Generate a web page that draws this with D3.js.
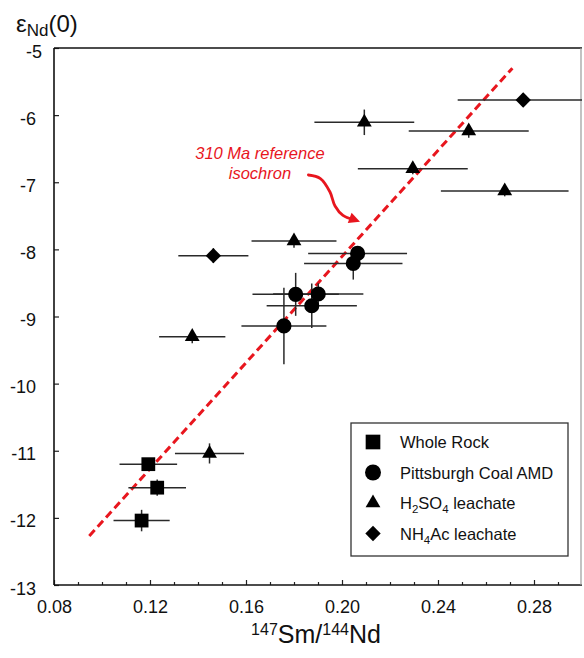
<!DOCTYPE html>
<html>
<head>
<meta charset="utf-8">
<script src="https://cdn.jsdelivr.net/npm/d3@7"></script>
<style>
  html, body { margin: 0; padding: 0; background: #fff; }
  svg { display: block; font-family: "Liberation Sans", Arial, Helvetica, sans-serif; }
</style>
</head>
<body>
<svg id="chart" width="584" height="658"></svg>
<script>
// Axis ticks
const xTicks = [0.08, 0.12, 0.16, 0.20, 0.24, 0.28];
const xMinorTicks = [0.09, 0.10, 0.11, 0.13, 0.14, 0.15, 0.17, 0.18, 0.19, 0.21, 0.22, 0.23, 0.25, 0.26, 0.27, 0.29];
const yTicks = [-5, -6, -7, -8, -9, -10, -11, -12, -13];

// Whole rock
const wholeRockX = [0.1193, 0.1230, 0.1165];
const wholeRockY = [-11.20, -11.55, -12.04];
const wholeRockXErr = [0.0120, 0.0120, 0.0117];
const wholeRockYErr = [0.07, 0.12, 0.16];

// Pittsburgh Coal AMD
const amdX = [0.2065, 0.2047, 0.1807, 0.1901, 0.1874, 0.1758];
const amdY = [-8.06, -8.21, -8.67, -8.665, -8.84, -9.14];
const amdXErr = [0.0206, 0.0205, 0.0180, 0.0188, 0.0188, 0.0177];
const amdYErr = [0.08, 0.24, 0.32, 0.16, 0.33, 0.57];

// H2SO4 leachate
const h2so4X = [0.1448, 0.1376, 0.1800, 0.2093, 0.2528, 0.2295, 0.2678];
const h2so4Y = [-11.04, -9.30, -7.875, -6.107, -6.237, -6.80, -7.13];
const h2so4XErr = [0.0144, 0.0138, 0.0177, 0.0208, 0.0250, 0.0229, 0.0266];
const h2so4YErr = [0.15, 0.10, 0.10, 0.19, 0.10, 0.08, 0.08];

// NH4Ac leachate
const nh4acX = [0.1464, 0.2755];
const nh4acY = [-8.094, -5.775];
const nh4acXErr = [0.0146, 0.0273];
const nh4acYErr = [0.11, 0.10];

// 310 Ma reference isochron (end points)
const isochronX = [0.0947, 0.2710];
const isochronY = [-12.27, -5.30];

// Callout arrow path, in data units
const arrowX = [0.1860, 0.1910, 0.1950, 0.1971, 0.2004, 0.2046, 0.2075];
const arrowY = [-6.892, -6.945, -7.145, -7.354, -7.495, -7.555, -7.588];
const calloutLines = ["310 Ma reference", "isochron"];
const calloutPos = [0.1658, -6.66];

const legendLabels = ["Whole Rock", "Pittsburgh Coal AMD", "H2SO4 leachate", "NH4Ac leachate"];

const RED = "#e8161e";
const svg = d3.select("#chart");

const x = d3.scaleLinear().domain([0.08, 0.30]).range([54, 582]);
const y = d3.scaleLinear().domain([-13, -5]).range([585, 48]);

// Clip region for marks
svg.append("clipPath").attr("id", "plotClip")
  .append("rect").attr("x", x(0.08)).attr("y", y(-5))
  .attr("width", x(0.30) - x(0.08)).attr("height", y(-13) - y(-5));

// X axis: minor and major inward ticks
const gxMinor = svg.append("g").attr("transform", `translate(0,${y(-13)})`)
  .call(d3.axisBottom(x).tickValues(xMinorTicks).tickSize(-3).tickFormat(""));
const gx = svg.append("g").attr("transform", `translate(0,${y(-13)})`)
  .call(d3.axisBottom(x).tickValues(xTicks).tickSize(-5).tickPadding(15).tickFormat(d3.format(".2f")));
[gxMinor, gx].forEach(g => {
  g.select(".domain").remove();
  g.selectAll("line").attr("stroke", "#222").attr("stroke-width", 1.2);
});
gx.selectAll("text").attr("font-size", 18).attr("fill", "#111")
  .attr("font-family", "'Liberation Sans', Arial, sans-serif");

// Y axis
const gy = svg.append("g").attr("transform", `translate(${x(0.08)},0)`)
  .call(d3.axisLeft(y).tickValues(yTicks).tickSize(-5).tickPadding(18).tickFormat(d3.format("d")));
gy.select(".domain").remove();
gy.selectAll("line").attr("stroke", "#222").attr("stroke-width", 1.2);
gy.selectAll("text").attr("font-size", 18).attr("fill", "#111")
  .attr("font-family", "'Liberation Sans', Arial, sans-serif")
  .attr("dy", "0.5em")
  .attr("dx", d => d === -5 ? 6 : 0)
  .text(d => String(d).replace("\u2212", "-"));

// Frame
const frame = svg.append("g");
frame.append("line").attr("x1", x(0.08)).attr("x2", x(0.30)).attr("y1", y(-5)).attr("y2", y(-5))
  .attr("stroke", "#111").attr("stroke-width", 1.4);
frame.append("line").attr("x1", x(0.08)).attr("x2", x(0.08)).attr("y1", y(-5)).attr("y2", y(-13))
  .attr("stroke", "#111").attr("stroke-width", 1.6);
frame.append("line").attr("x1", x(0.08)).attr("x2", x(0.30)).attr("y1", y(-13)).attr("y2", y(-13))
  .attr("stroke", "#111").attr("stroke-width", 1.6);
frame.append("line").attr("x1", x(0.30) - 1).attr("x2", x(0.30) - 1).attr("y1", y(-5)).attr("y2", y(-13))
  .attr("stroke", "#9a9a9a").attr("stroke-width", 1.2);

const plot = svg.append("g").attr("clip-path", "url(#plotClip)");

// Isochron
plot.append("path")
  .datum(isochronX.map((v, i) => [v, isochronY[i]]))
  .attr("d", d3.line().x(d => x(d[0])).y(d => y(d[1])))
  .attr("fill", "none").attr("stroke", RED).attr("stroke-width", 3)
  .attr("stroke-dasharray", "8,4.5");

// Series
const series = [
  { xs: wholeRockX, ys: wholeRockY, xe: wholeRockXErr, ye: wholeRockYErr, type: d3.symbolSquare, size: 190, rot: 0 },
  { xs: amdX, ys: amdY, xe: amdXErr, ye: amdYErr, type: d3.symbolCircle, size: 180, rot: 0 },
  { xs: h2so4X, ys: h2so4Y, xe: h2so4XErr, ye: h2so4YErr, type: d3.symbolTriangle, size: 95, rot: 0 },
  { xs: nh4acX, ys: nh4acY, xe: nh4acXErr, ye: nh4acYErr, type: d3.symbolSquare, size: 118, rot: 45 }
];

const errG = plot.append("g").attr("stroke", "#2a2a2a").attr("stroke-width", 1.5);
series.forEach(s => {
  s.xs.forEach((xv, i) => {
    const yv = s.ys[i];
    errG.append("line").attr("x1", x(xv - s.xe[i])).attr("x2", x(xv + s.xe[i]))
      .attr("y1", y(yv)).attr("y2", y(yv));
    errG.append("line").attr("x1", x(xv)).attr("x2", x(xv))
      .attr("y1", y(yv - s.ye[i])).attr("y2", y(yv + s.ye[i]));
  });
});

const markG = plot.append("g");
series.forEach(s => {
  markG.selectAll(null).data(s.xs.map((v, i) => [v, s.ys[i]])).enter()
    .append("path")
    .attr("d", d3.symbol().type(s.type).size(s.size))
    .attr("transform", d => `translate(${x(d[0])},${y(d[1])}) rotate(${s.rot})`)
    .attr("fill", "#000");
});

// Callout text and arrow
const callout = svg.append("text")
  .attr("x", x(calloutPos[0])).attr("y", y(calloutPos[1]))
  .attr("text-anchor", "middle").attr("fill", RED)
  .attr("font-size", 16.5).attr("font-style", "italic");
calloutLines.forEach((t, i) => {
  callout.append("tspan").attr("x", x(calloutPos[0])).attr("dy", i === 0 ? 0 : 20).text(t);
});

const arrowPts = arrowX.map((v, i) => [x(v), y(arrowY[i])]);
const shaftPts = arrowPts.slice(0, -1);
svg.append("path").datum(shaftPts)
  .attr("d", d3.line().curve(d3.curveCatmullRom))
  .attr("fill", "none").attr("stroke", RED).attr("stroke-width", 2.8).attr("stroke-linecap", "round");
{
  const tip = arrowPts[arrowPts.length - 1];
  const prev = arrowPts[arrowPts.length - 3];
  const ang = Math.atan2(tip[1] - prev[1], tip[0] - prev[0]);
  const L = 11, W = 5.5;
  const bx = tip[0] - L * Math.cos(ang), by = tip[1] - L * Math.sin(ang);
  const px = -Math.sin(ang) * W, py = Math.cos(ang) * W;
  svg.append("path")
    .attr("d", `M${tip[0]},${tip[1]}L${bx + px},${by + py}L${bx - px},${by - py}Z`)
    .attr("fill", RED);
}

// Axis titles
const yTitle = svg.append("text").attr("x", 16).attr("y", 32).attr("fill", "#111").attr("font-size", 24);
yTitle.append("tspan").text("\u03b5");
yTitle.append("tspan").attr("font-size", 17).attr("dy", 4).text("Nd");
yTitle.append("tspan").attr("dy", -4).text("(0)");

const xTitle = svg.append("text").attr("x", (x(0.08) + x(0.30)) / 2 - 2).attr("y", 643)
  .attr("text-anchor", "middle").attr("fill", "#111").attr("font-size", 25);
xTitle.append("tspan").attr("font-size", 16).attr("dy", -8).text("147");
xTitle.append("tspan").attr("dy", 8).text("Sm/");
xTitle.append("tspan").attr("font-size", 16).attr("dy", -8).text("144");
xTitle.append("tspan").attr("dy", 8).text("Nd");

// Legend
const legend = svg.append("g");
legend.append("rect").attr("x", 351).attr("y", 423).attr("width", 217).attr("height", 133)
  .attr("fill", "#fff").attr("stroke", "#333").attr("stroke-width", 1.3);
const legendSymbols = [
  { type: d3.symbolSquare, size: 215, rot: 0 },
  { type: d3.symbolCircle, size: 200, rot: 0 },
  { type: d3.symbolTriangle, size: 95, rot: 0 },
  { type: d3.symbolSquare, size: 118, rot: 45 }
];
legendLabels.forEach((lab, i) => {
  const ry = 442 + i * 30.5;
  const sym = legendSymbols[i];
  legend.append("path").attr("d", d3.symbol().type(sym.type).size(sym.size))
    .attr("transform", `translate(373,${ry}) rotate(${sym.rot})`).attr("fill", "#000");
  const t = legend.append("text").attr("x", 400).attr("y", ry + 6)
    .attr("font-size", 16.5).attr("fill", "#111");
  // chemical formulas get subscripted digits
  const parts = lab.split(/(\d)/).filter(p => p.length);
  let sub = false;
  parts.forEach(p => {
    if (/^\d$/.test(p)) {
      t.append("tspan").attr("font-size", 11.5).attr("dy", 4).text(p);
      sub = true;
    } else {
      t.append("tspan").attr("dy", sub ? -4 : 0).text(p);
      sub = false;
    }
  });
});
</script>
</body>
</html>
